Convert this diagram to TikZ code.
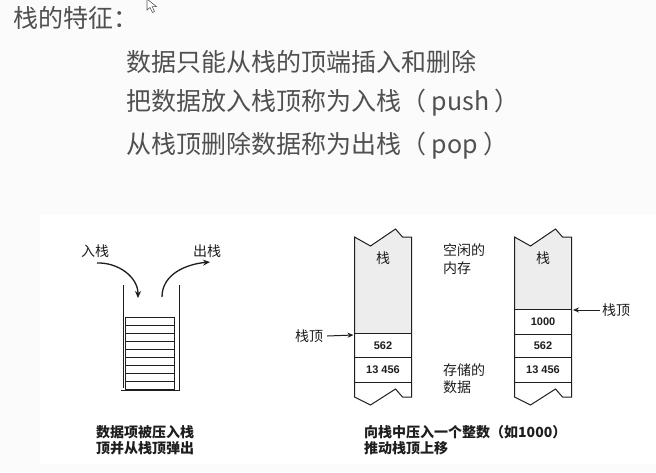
\documentclass[tikz,border=0pt]{standalone}
\usepackage{fontspec}
\usetikzlibrary{arrows.meta}
\newfontfamily\cjk{Noto Sans CJK SC}
\setmainfont{Liberation Sans}
\definecolor{pagebg}{HTML}{FBFBFB}
\definecolor{bodytext}{HTML}{505050}
\definecolor{ink}{HTML}{1E1E1E}
\definecolor{freemem}{HTML}{EDEDED}
\tikzset{
  heading/.style={font=\cjk\fontsize{25}{29}\selectfont, text=bodytext, inner sep=0, anchor=west},
  figlabel/.style={font=\cjk\fontsize{14}{16}\selectfont, text=ink, inner sep=0},
  caption/.style={font=\cjk\bfseries\fontsize{14}{16}\selectfont, text=ink, inner sep=0, anchor=west},
  cellnum/.style={font=\bfseries\fontsize{11}{13}\selectfont, text=ink, inner sep=0},
  wall/.style={draw=ink, line width=0.7pt, double=white, double distance=1.6pt},
  plate/.style={draw=ink, line width=0.9pt},
  column/.style={draw=ink, line width=1pt},
  flow/.style={draw=ink, line width=1.3pt, -{Stealth[length=7pt,width=6pt]}},
  pointer/.style={draw=ink, line width=1pt, -{Stealth[length=6pt,width=5pt]}}
}
\begin{document}
\begin{tikzpicture}[x=1pt,y=-1pt]
\fill[pagebg] (0,0) rectangle (656,472);
\useasboundingbox (0,0) rectangle (656,472);
\fill[white] (40,215) rectangle (656,464);

% mouse pointer
\filldraw[fill=white, draw=gray!70!black, line width=0.6pt]
  (147,-1) -- (147,10) -- (150,7.5) -- (152.5,12.5) -- (154.5,11.5) -- (152.2,6.6) -- (156.5,6.6) -- cycle;

% heading text
\node[heading] (title) at (13,18) {栈的特征：};
\node[heading] (rule1) at (126,62) {数据只能从栈的顶端插入和删除};
\node[heading] (rule2) at (126,103) {把数据放入栈顶称为入栈（ push ）};
\node[heading] (rule3) at (126,146) {从栈顶删除数据称为出栈（ pop ）};

% ---- left figure: plates in a tube ----
\draw[wall] (122,285) -- (122,389) -- (178,389) -- (178,285);
\foreach \k in {0,...,8} {
  \draw[plate] (125.5,{317+8*\k}) rectangle (174.5,{325+8*\k});
}
\node[figlabel] (pushlbl) at (95,251) {入栈};
\node[figlabel] (poplbl) at (207,251) {出栈};
\coordinate (pushs) at (97,263);
\coordinate (pushe) at (138,298);
\coordinate (pops) at (162,297);
\coordinate (pope) at (210,262);
\draw[flow] (pushs) to[out=2,in=90] (pushe);
\draw[flow] (pops) to[out=90,in=185] (pope);
\node[caption] (capl1) at (96,432) {数据项被压入栈};
\node[caption] (capl2) at (96,448) {顶并从栈顶弹出};

% ---- middle column: before push ----
\begin{scope}[shift={(354.5,0)}]
  \fill[freemem] (0,237) -- (16,246) -- (41,229) -- (48,237) -- (57,237) -- (57,333) -- (0,333) -- cycle;
  \draw[column] (0,237) -- (16,246) -- (41,229) -- (48,237) -- (57,237) -- (57,397)
     -- (48,397) -- (41,389) -- (16,405) -- (0,397) -- cycle;
  \draw[column] (0,333) -- (57,333);
  \draw[column] (0,357) -- (57,357);
  \draw[column] (0,382) -- (57,382);
  \node[figlabel] (memA) at (28.5,258) {栈};
  \node[cellnum] (a562) at (28.5,345.5) {562};
  \node[cellnum] (a13456) at (28.5,369.5) {13 456};
  \coordinate (topA) at (-1,335);
\end{scope}
\node[figlabel] (sptrA) at (309,336) {栈顶};
\draw[pointer] (sptrA.east) ++(4,0) coordinate (sptrAs) (sptrAs) -- (topA);

\node[figlabel, anchor=west] (free1) at (443,250) {空闲的};
\node[figlabel, anchor=west] (free2) at (443,268) {内存};
\node[figlabel, anchor=west] (used1) at (443,370) {存储的};
\node[figlabel, anchor=west] (used2) at (443,387) {数据};

% ---- right column: after push ----
\begin{scope}[shift={(514.5,0)}]
  \fill[freemem] (0,237) -- (16,246) -- (41,229) -- (48,237) -- (57,237) -- (57,309) -- (0,309) -- cycle;
  \draw[column] (0,237) -- (16,246) -- (41,229) -- (48,237) -- (57,237) -- (57,397)
     -- (48,397) -- (41,389) -- (16,405) -- (0,397) -- cycle;
  \draw[column] (0,309) -- (57,309);
  \draw[column] (0,334) -- (57,334);
  \draw[column] (0,357) -- (57,357);
  \draw[column] (0,382) -- (57,382);
  \node[figlabel] (memB) at (28.5,258) {栈};
  \node[cellnum] (b1000) at (28.5,321.5) {1000};
  \node[cellnum] (b562) at (28.5,345.5) {562};
  \node[cellnum] (b13456) at (28.5,369.5) {13 456};
  \coordinate (topB) at (58.5,310);
\end{scope}
\node[figlabel, anchor=west] (sptrB) at (602,310) {栈顶};
\draw[pointer] (sptrB.west) ++(-2,0) coordinate (sptrBs) (sptrBs) -- (topB);

\node[caption] (capr1) at (364,432) {向栈中压入一个整数（如1000）};
\node[caption] (capr2) at (364,448) {推动栈顶上移};
\end{tikzpicture}
\end{document}
